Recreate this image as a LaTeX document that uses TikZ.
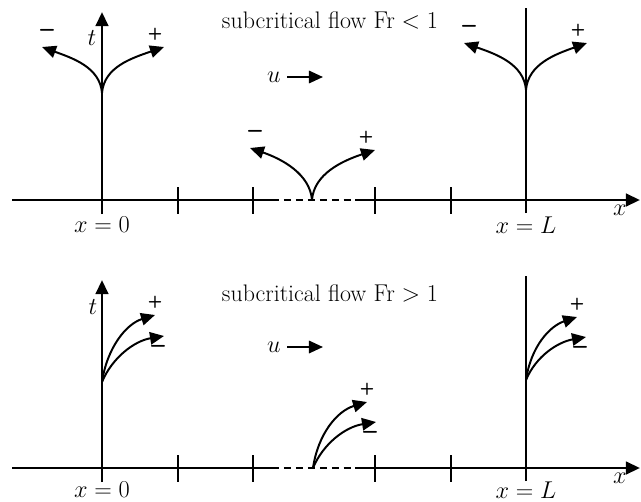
\documentclass[tikz,border=0pt]{standalone}
\usepackage{amsmath,amssymb}
\usetikzlibrary{arrows.meta,positioning,calc}

\begin{document}
\begin{tikzpicture}[
  x=0.025cm, y=-0.025cm,
  >={Triangle[length=3.5mm,width=3.1mm]},
  axisline/.style={line width=2pt},
  thinaxis/.style={line width=1.5pt},
  dashaxis/.style={line width=1pt, dash pattern=on 5pt off 3.5pt},
  bndline/.style={line width=1.4pt},
  tickline/.style={line width=1.4pt},
  charline/.style={line width=1.4pt, ->},
  plussign/.style={font=\sffamily\bfseries\fontsize{12}{12}\selectfont, inner sep=0pt},
  minussign/.style={font=\sffamily\bfseries\fontsize{18}{18}\selectfont, inner sep=0pt},
  lbl/.style={font=\fontsize{17}{20}\selectfont, inner sep=0pt}
]
\useasboundingbox (0,0) rectangle (641,502);

% Axes of both panels
\foreach \p/\y in {1/200, 2/468} {
  \coordinate (xs\p) at (12,\y);
  \coordinate (xa\p) at (272,\y);
  \coordinate (xb\p) at (355,\y);
  \coordinate (xe\p) at (640,\y);
  \draw[thinaxis] (xs\p) -- (xa\p);
  \draw[dashaxis] (xa\p) -- (xb\p);
  \draw[axisline, ->] (xb\p) -- (xe\p);
  \coordinate (tb\p) at (102,\y+14);
  \coordinate (tt\p) at (102,\y-188);
  \draw[axisline, ->] (tb\p) -- (tt\p);
  \coordinate (lb\p) at (526,\y+13);
  \coordinate (lt\p) at (526,\y-192);
  \draw[bndline] (lb\p) -- (lt\p);
  \foreach \x in {178, 253, 375, 451} {
    \draw[tickline] (\x,\y-13) -- (\x,\y+14);
  }
  \node[lbl] (xlab\p) at (620,\y+10) {$x$};
}

% Axis labels
\node[lbl] (t1) at (92,38) {$t$};
\node[lbl] (t2) at (93,307) {$t$};
\node[lbl, anchor=north] (x01) at (102,217) {$x=0$};
\node[lbl, anchor=north] (xL1) at (526,217) {$x=L$};
\node[lbl, anchor=north] (x02) at (102,482) {$x=0$};
\node[lbl, anchor=north] (xL2) at (526,482) {$x=L$};

% Titles and flow velocity
\node[lbl] (title1) at (330,20) {subcritical flow $\mathrm{Fr}<1$};
\node[lbl] (title2) at (330,293) {subcritical flow $\mathrm{Fr}>1$};
\foreach \p/\y in {1/77, 2/347} {
  \node[lbl, anchor=east] (u\p) at (281,\y) {$u$};
  \coordinate (ue\p) at (323,\y);
  \draw[bndline, ->] (u\p.east) ++(6,0) -- (ue\p);
}

% Top panel: characteristics of opposite direction
\foreach \n/\ox/\oy/\lx/\ly/\rx/\ry in {a/102/93/42/47/164/47, b/312/200/250/148/375/150, c/526/90/464/43/587/43} {
  \coordinate (o\n) at (\ox,\oy);
  \coordinate (m\n) at (\lx,\ly);
  \coordinate (p\n) at (\rx,\ry);
  \draw[charline] (o\n) .. controls (\ox-2,\oy-26) and (\ox-30,\ly+11) .. (m\n);
  \draw[charline] (o\n) .. controls (\ox+2,\oy-26) and (\ox+30,\ry+11) .. (p\n);
  \node[minussign] (sm\n) at (\lx+5,\ly-14) {--};
  \node[plussign] (sp\n) at (\rx-9,\ry-13) {+};
}

% Bottom panel: both characteristics downstream
\foreach \n/\ox/\oy/\ux/\uy/\wx/\wy in {d/102/382/155/315/164/336, e/313/468/367/402/376/422, f/526/380/577/317/586/337} {
  \coordinate (o\n) at (\ox,\oy);
  \coordinate (p\n) at (\ux,\uy);
  \coordinate (m\n) at (\wx,\wy);
  \draw[charline] (o\n) .. controls (\ox+5,\oy-34) and (\ox+24,\uy+9) .. (p\n);
  \draw[charline] (o\n) .. controls (\ox+10,\oy-24) and (\ox+32,\wy+5) .. (m\n);
  \node[plussign] (sp\n) at (\ux,\uy-13) {+};
  \node[minussign] (sm\n) at (\wx-6,\wy+13) {--};
}
\end{tikzpicture}
\end{document}
